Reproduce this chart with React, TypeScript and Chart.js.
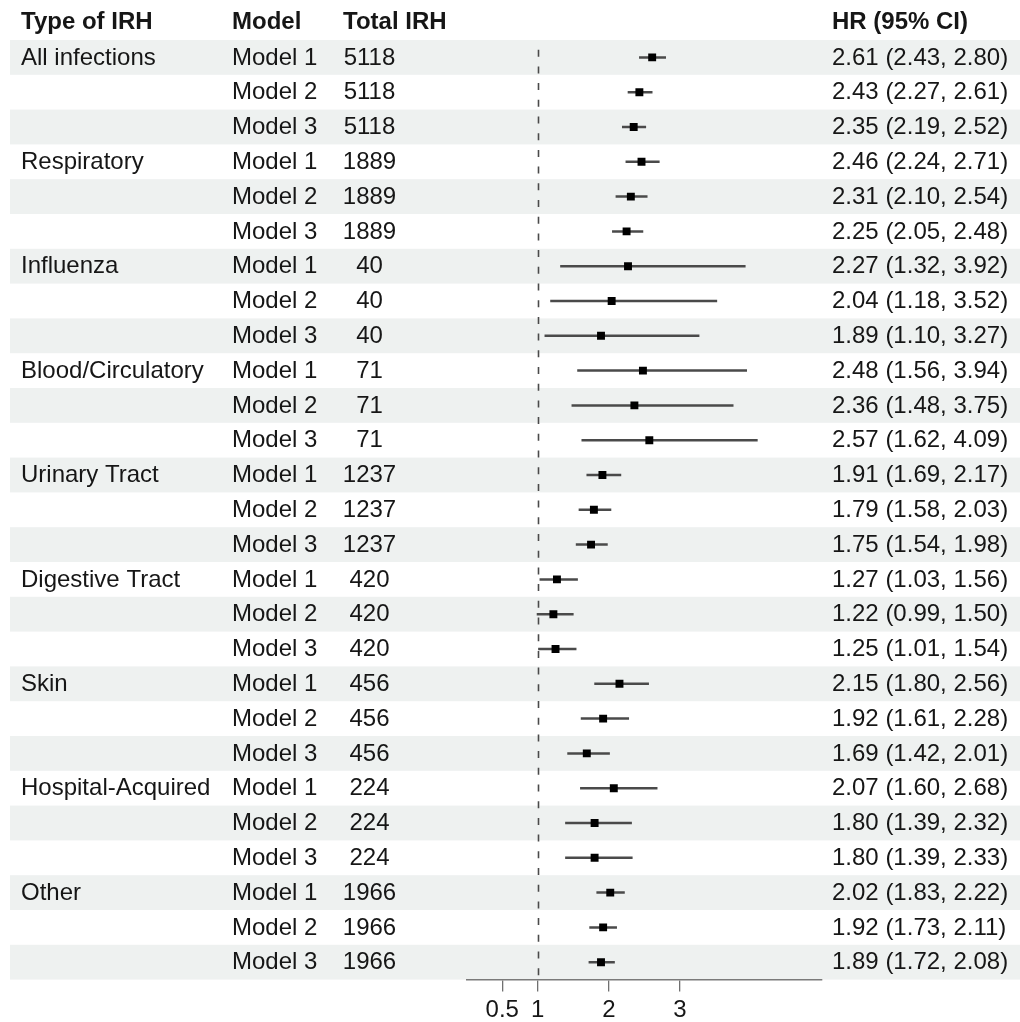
import React, { useEffect, useRef } from 'react';
import { Chart, registerables } from 'chart.js';

Chart.register(...registerables);

const irhTypes = [
  'All infections',
  'Respiratory',
  'Influenza',
  'Blood/Circulatory',
  'Urinary Tract',
  'Digestive Tract',
  'Skin',
  'Hospital-Acquired',
  'Other',
];
const modelNames = ['Model 1', 'Model 2', 'Model 3'];
const totalIrh = [5118, 1889, 40, 71, 1237, 420, 456, 224, 1966];

const hrEst = [
  2.61, 2.43, 2.35,
  2.46, 2.31, 2.25,
  2.27, 2.04, 1.89,
  2.48, 2.36, 2.57,
  1.91, 1.79, 1.75,
  1.27, 1.22, 1.25,
  2.15, 1.92, 1.69,
  2.07, 1.80, 1.80,
  2.02, 1.92, 1.89,
];
const ciLow = [
  2.43, 2.27, 2.19,
  2.24, 2.10, 2.05,
  1.32, 1.18, 1.10,
  1.56, 1.48, 1.62,
  1.69, 1.58, 1.54,
  1.03, 0.99, 1.01,
  1.80, 1.61, 1.42,
  1.60, 1.39, 1.39,
  1.83, 1.73, 1.72,
];
const ciHigh = [
  2.80, 2.61, 2.52,
  2.71, 2.54, 2.48,
  3.92, 3.52, 3.27,
  3.94, 3.75, 4.09,
  2.17, 2.03, 1.98,
  1.56, 1.50, 1.54,
  2.56, 2.28, 2.01,
  2.68, 2.32, 2.33,
  2.22, 2.11, 2.08,
];
const xTickValues = [0.5, 1, 2, 3];
const headers = ['Type of IRH', 'Model', 'Total IRH', 'HR (95% CI)'];

const FONT = '"Liberation Sans", Arial, Helvetica, sans-serif';
const TEXT = '#161616';
const BAND = '#eef1f0';

export default function App() {
  const ref = useRef<HTMLCanvasElement>(null);

  useEffect(() => {
    const canvas = ref.current;
    if (!canvas) return;

    const rows = hrEst.map((e, i) => ({
      type: i % 3 === 0 ? irhTypes[Math.floor(i / 3)] : '',
      model: modelNames[i % 3],
      total: String(totalIrh[Math.floor(i / 3)]),
      est: e,
      lo: ciLow[i],
      hi: ciHigh[i],
    }));

    const tablePlugin = {
      id: 'forestTable',
      beforeDraw(chart: any) {
        const { ctx, scales } = chart;
        const y = scales.y;
        ctx.save();
        ctx.fillStyle = '#ffffff';
        ctx.fillRect(0, 0, chart.width, chart.height);
        rows.forEach((_r, i) => {
          if (i % 2 === 0) {
            const top = y.getPixelForValue(i - 0.5);
            const bot = y.getPixelForValue(i + 0.5);
            ctx.fillStyle = BAND;
            ctx.fillRect(10, top, chart.width - 10, bot - top);
          }
        });
        ctx.restore();
      },
      beforeDatasetsDraw(chart: any) {
        const { ctx, scales, chartArea } = chart;
        const px = Math.round(scales.x.getPixelForValue(1)) + 0.5;
        ctx.save();
        ctx.strokeStyle = '#4a4a4a';
        ctx.lineWidth = 1.6;
        ctx.setLineDash([7, 9.7]);
        ctx.lineDashOffset = 7;
        ctx.beginPath();
        ctx.moveTo(px, chartArea.top);
        ctx.lineTo(px, chartArea.bottom);
        ctx.stroke();
        ctx.restore();
      },
      afterDraw(chart: any) {
        const { ctx, scales } = chart;
        const y = scales.y;
        ctx.save();
        ctx.fillStyle = TEXT;
        ctx.textBaseline = 'middle';
        ctx.textAlign = 'left';
        ctx.font = `bold 24px ${FONT}`;
        const hy = y.getPixelForValue(-1);
        ctx.fillText(headers[0], 21, hy);
        ctx.fillText(headers[1], 232, hy);
        ctx.fillText(headers[2], 343, hy);
        ctx.fillText(headers[3], 832, hy);
        ctx.font = `24px ${FONT}`;
        rows.forEach((r, i) => {
          const py = y.getPixelForValue(i) + 0.5;
          ctx.textAlign = 'left';
          if (r.type) ctx.fillText(r.type, 21, py);
          ctx.fillText(r.model, 232, py);
          ctx.textAlign = 'center';
          ctx.fillText(r.total, 369.5, py);
          ctx.textAlign = 'left';
          ctx.fillText(
            `${r.est.toFixed(2)} (${r.lo.toFixed(2)}, ${r.hi.toFixed(2)})`,
            832,
            py
          );
        });
        ctx.restore();
      },
    };

    const chart = new Chart(canvas, {
      type: 'scatter',
      data: {
        datasets: [
          {
            type: 'scatter',
            data: rows.map((r, i) => ({ x: r.est, y: i })),
            pointStyle: 'rect',
            pointRadius: 5.6,
            pointHoverRadius: 5.6,
            backgroundColor: '#000000',
            borderWidth: 0,
            order: 0,
          } as any,
          {
            type: 'bar',
            indexAxis: 'y',
            data: rows.map((r, i) => ({ x: [r.lo, r.hi], y: i })),
            barThickness: 1.8,
            backgroundColor: '#4a4a4a',
            borderWidth: 0,
            grouped: false,
            order: 1,
          } as any,
        ],
      },
      options: {
        animation: false,
        responsive: false,
        events: [],
        layout: { padding: { left: 466.7, right: 198, top: 40, bottom: 0 } },
        plugins: {
          legend: { display: false },
          tooltip: { enabled: false },
        },
        scales: {
          x: {
            type: 'linear',
            min: 0,
            max: 5,
            offset: false,
            afterBuildTicks: (scale: any) => {
              scale.ticks = xTickValues.map((v) => ({ value: v }));
            },
            afterFit: (scale: any) => {
              scale.height = 42.4;
            },
            grid: {
              drawOnChartArea: false,
              drawTicks: true,
              tickLength: 12,
              color: '#707070',
              lineWidth: 1.3,
            },
            border: { display: true, color: '#7a7a7a', width: 1.5 },
            ticks: {
              autoSkip: false,
              maxRotation: 0,
              padding: 4,
              color: TEXT,
              font: { family: FONT, size: 24 },
              callback: (v: any) => String(v),
            },
          },
          y: {
            type: 'linear',
            min: -0.5,
            max: 26.5,
            reverse: true,
            offset: false,
            display: false,
            grid: { offset: false },
          },
        },
      } as any,
      plugins: [tablePlugin],
    });

    return () => {
      chart.destroy();
    };
  }, []);

  return (
    <div style={{ position: 'absolute', left: 0, top: 0, width: 1020, height: 1022 }}>
      <canvas ref={ref} width={1020} height={1022} style={{ display: 'block' }} />
    </div>
  );
}
